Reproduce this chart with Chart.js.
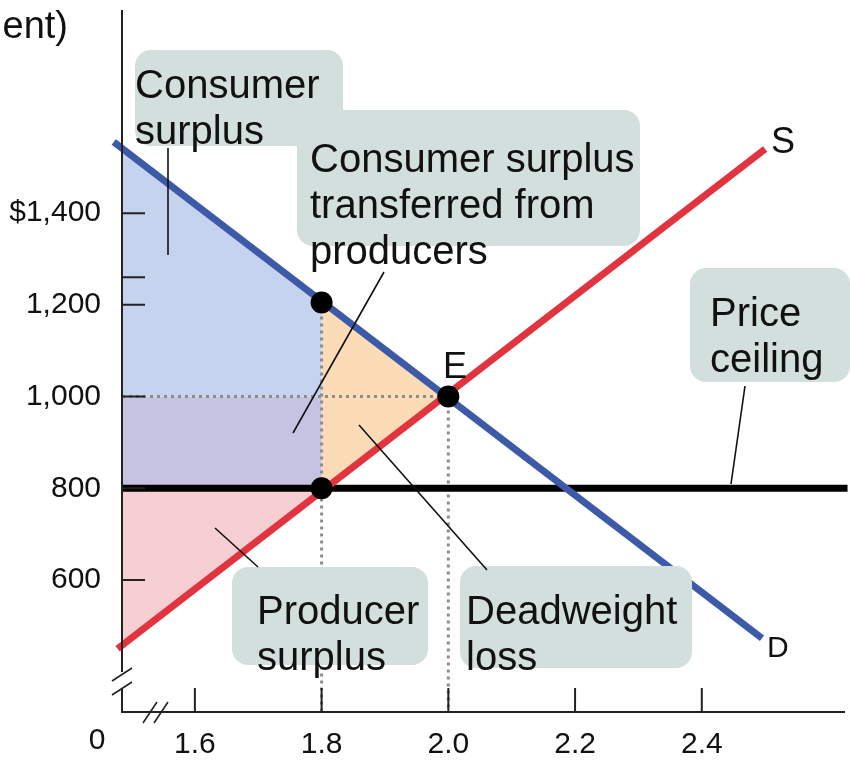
<!DOCTYPE html>
<html>
<head>
<meta charset="utf-8">
<script src="https://cdn.jsdelivr.net/npm/chart.js@4/dist/chart.umd.min.js"></script>
<style>
  html, body { margin: 0; padding: 0; background: #ffffff; }
  #wrap { width: 850px; height: 761px; }
</style>
</head>
<body>
<div id="wrap"><canvas id="c" width="850" height="761"></canvas></div>
<script>
// ---------- data ----------
const demandQ = [1.472, 2.495];
const demandP = [1555, 473];
const supplyQ = [1.478, 2.5];
const supplyP = [450, 1540];
const ceilingPrice = 800;
const ceilingQ = [1.485, 2.63];
const ceilingQuantity = 1.8;      // quantity supplied under the ceiling
const demandPriceAtCeilingQ = 1205;
const equilibriumQ = 2.0;
const equilibriumP = 1000;
const axisMinQ = 1.485;
const axisMinP = 312;
const demandPriceAtAxis = 1541;
const supplyPriceAtAxis = 457;

const xTickValues = [1.6, 1.8, 2.0, 2.2, 2.4];
const yTickValues = [600, 800, 1000, 1200, 1400];
const yTickMarks = [600, 800, 1000, 1200, 1260, 1400];
const yTickLabels = ['600', '800', '1,000', '1,200', '$1,400'];

// ---------- helpers ----------
const pts = (xs, ys) => xs.map((x, i) => ({x: x, y: ys[i]}));

const consumerSurplusArea = pts(
  [axisMinQ, ceilingQuantity, ceilingQuantity, axisMinQ],
  [demandPriceAtAxis, demandPriceAtCeilingQ, equilibriumP, equilibriumP]);
const transferArea = pts(
  [axisMinQ, ceilingQuantity, ceilingQuantity, axisMinQ],
  [equilibriumP, equilibriumP, ceilingPrice, ceilingPrice]);
const producerSurplusArea = pts(
  [axisMinQ, ceilingQuantity, axisMinQ],
  [supplyPriceAtAxis, ceilingPrice, ceilingPrice]);
const deadweightArea = pts(
  [ceilingQuantity, equilibriumQ, ceilingQuantity],
  [demandPriceAtCeilingQ, equilibriumP, ceilingPrice]);

const FONT = '"Liberation Sans", Arial, Helvetica, sans-serif';

function areaSet(data, color, order) {
  return { data: data, showLine: true, fill: 'shape', backgroundColor: color,
           borderColor: 'rgba(0,0,0,0)', borderWidth: 0, pointRadius: 0,
           tension: 0, order: order };
}
function dotted(data, order) {
  return { data: data, showLine: true, fill: false, borderColor: '#8c8c8c',
           borderWidth: 3, borderDash: [3, 4], pointRadius: 0, order: order };
}
function noPadding(s) {
  s.paddingTop = 0; s.paddingBottom = 0; s.paddingLeft = 0; s.paddingRight = 0;
}

const annotationPlugin = {
  id: 'econAnnotations',
  afterDraw(chart) {
    const ctx = chart.ctx;
    const xs = chart.scales.x, ys = chart.scales.y;
    const left = xs.left, bottom = ys.bottom, top = ys.top, right = xs.right;
    ctx.save();
    // axes
    ctx.strokeStyle = '#222';
    ctx.lineWidth = 2;
    ctx.beginPath();
    ctx.moveTo(left, top); ctx.lineTo(left, bottom - 40);
    ctx.moveTo(left, bottom - 24); ctx.lineTo(left, bottom);
    ctx.lineTo(right, bottom);
    ctx.stroke();
    // axis break marks
    ctx.lineWidth = 1.6;
    ctx.beginPath();
    ctx.moveTo(left - 10, bottom - 31); ctx.lineTo(left + 10, bottom - 44);
    ctx.moveTo(left - 10, bottom - 17); ctx.lineTo(left + 10, bottom - 30);
    ctx.moveTo(left + 21, bottom + 11); ctx.lineTo(left + 35, bottom - 10);
    ctx.moveTo(left + 32, bottom + 11); ctx.lineTo(left + 46, bottom - 10);
    ctx.stroke();
    // tick marks (inside)
    ctx.lineWidth = 2;
    ctx.beginPath();
    yTickMarks.forEach(v => {
      const y = ys.getPixelForValue(v);
      ctx.moveTo(left, y); ctx.lineTo(left + 23, y);
    });
    xTickValues.forEach(v => {
      const x = xs.getPixelForValue(v);
      ctx.moveTo(x, bottom); ctx.lineTo(x, bottom - 24);
    });
    ctx.stroke();
    // origin label and cut-off axis title
    ctx.fillStyle = '#111';
    ctx.font = '30px ' + FONT;
    ctx.textAlign = 'center';
    ctx.textBaseline = 'middle';
    ctx.fillText('0', left - 25, bottom + 29);
    ctx.font = '38px ' + FONT;
    ctx.textAlign = 'right';
    ctx.textBaseline = 'alphabetic';
    ctx.fillText('ent)', 68, 38);

    // annotation boxes
    const boxes = [
      [135, 50, 208, 96],
      [297, 110, 343, 136],
      [690, 268, 160, 114],
      [232, 567, 196, 98],
      [460, 566, 232, 102]
    ];
    ctx.fillStyle = '#d3dfdc';
    boxes.forEach(b => {
      ctx.beginPath();
      ctx.roundRect(b[0], b[1], b[2], b[3], 16);
      ctx.fill();
    });
    // annotation texts
    ctx.fillStyle = '#111';
    ctx.font = '40px ' + FONT;
    ctx.textAlign = 'left';
    ctx.textBaseline = 'alphabetic';
    const texts = [
      ['Consumer', 135, 98], ['surplus', 135, 144],
      ['Consumer surplus', 310, 172], ['transferred from', 310, 218], ['producers', 310, 264],
      ['Price', 710, 326], ['ceiling', 710, 372],
      ['Producer', 257, 624], ['surplus', 257, 670],
      ['Deadweight', 466, 624], ['loss', 466, 670]
    ];
    texts.forEach(t => ctx.fillText(t[0], t[1], t[2]));
    // curve and point labels
    ctx.font = '36px ' + FONT;
    ctx.fillText('S', 771, 153);
    ctx.fillText('E', 443, 378);
    ctx.font = '30px ' + FONT;
    ctx.fillText('D', 767, 657);

    // leader lines
    ctx.strokeStyle = '#111';
    ctx.lineWidth = 1.6;
    const leaders = [
      [168, 148, 168, 255],
      [384, 272, 293, 433],
      [359, 425, 487, 570],
      [215, 528, 258, 567],
      [745, 386, 731, 484]
    ];
    ctx.beginPath();
    leaders.forEach(l => { ctx.moveTo(l[0], l[1]); ctx.lineTo(l[2], l[3]); });
    ctx.stroke();
    ctx.restore();
  }
};

const chart = new Chart(document.getElementById('c'), {
  type: 'scatter',
  data: {
    datasets: [
      areaSet(consumerSurplusArea, '#c6d3ee', 20),
      areaSet(transferArea, '#c6c3e2', 20),
      areaSet(producerSurplusArea, '#f6cfd3', 20),
      areaSet(deadweightArea, '#fcdcb6', 20),
      dotted(pts([ceilingQuantity, ceilingQuantity], [demandPriceAtCeilingQ, axisMinP]), 15),
      dotted(pts([equilibriumQ, equilibriumQ], [equilibriumP, axisMinP]), 15),
      dotted(pts([axisMinQ, equilibriumQ], [equilibriumP, equilibriumP]), 15),
      { data: pts(ceilingQ, [ceilingPrice, ceilingPrice]), showLine: true, fill: false,
        borderColor: '#000000', borderWidth: 7, pointRadius: 0, order: 6, clip: false },
      { data: pts(demandQ, demandP), showLine: true, fill: false,
        borderColor: '#3c5aa8', borderWidth: 7, pointRadius: 0, order: 5, clip: false },
      { data: pts(supplyQ, supplyP), showLine: true, fill: false,
        borderColor: '#e2343f', borderWidth: 7, pointRadius: 0, order: 4, clip: false },
      { data: pts([ceilingQuantity, equilibriumQ, ceilingQuantity],
                  [demandPriceAtCeilingQ, equilibriumP, ceilingPrice]),
        showLine: false, pointRadius: 11, pointBackgroundColor: '#000',
        pointBorderWidth: 0, pointBorderColor: '#000', order: 1, clip: false }
    ]
  },
  options: {
    responsive: false,
    animation: false,
    devicePixelRatio: 1,
    layout: { autoPadding: false, padding: { top: 10, right: 5, left: 0, bottom: 0 } },
    plugins: { legend: { display: false }, tooltip: { enabled: false } },
    scales: {
      x: {
        type: 'linear', min: axisMinQ, max: 2.626,
        grid: { display: false }, border: { display: false },
        afterBuildTicks: s => { s.ticks = xTickValues.map(v => ({value: v})); },
        afterFit: s => { s.height = 49; noPadding(s); },
        ticks: {
          autoSkip: false, maxRotation: 0, padding: 7, color: '#111',
          font: { family: FONT, size: 30 },
          callback: v => Number(v).toFixed(1)
        }
      },
      y: {
        type: 'linear', min: axisMinP, max: 1843,
        grid: { display: false }, border: { display: false },
        afterBuildTicks: s => { s.ticks = yTickValues.map(v => ({value: v})); },
        afterFit: s => { s.width = 122; noPadding(s); },
        ticks: {
          autoSkip: false, padding: 13, color: '#111',
          font: { family: FONT, size: 30 },
          callback: v => yTickLabels[yTickValues.indexOf(v)]
        }
      }
    }
  },
  plugins: [annotationPlugin]
});
</script>
</body>
</html>
